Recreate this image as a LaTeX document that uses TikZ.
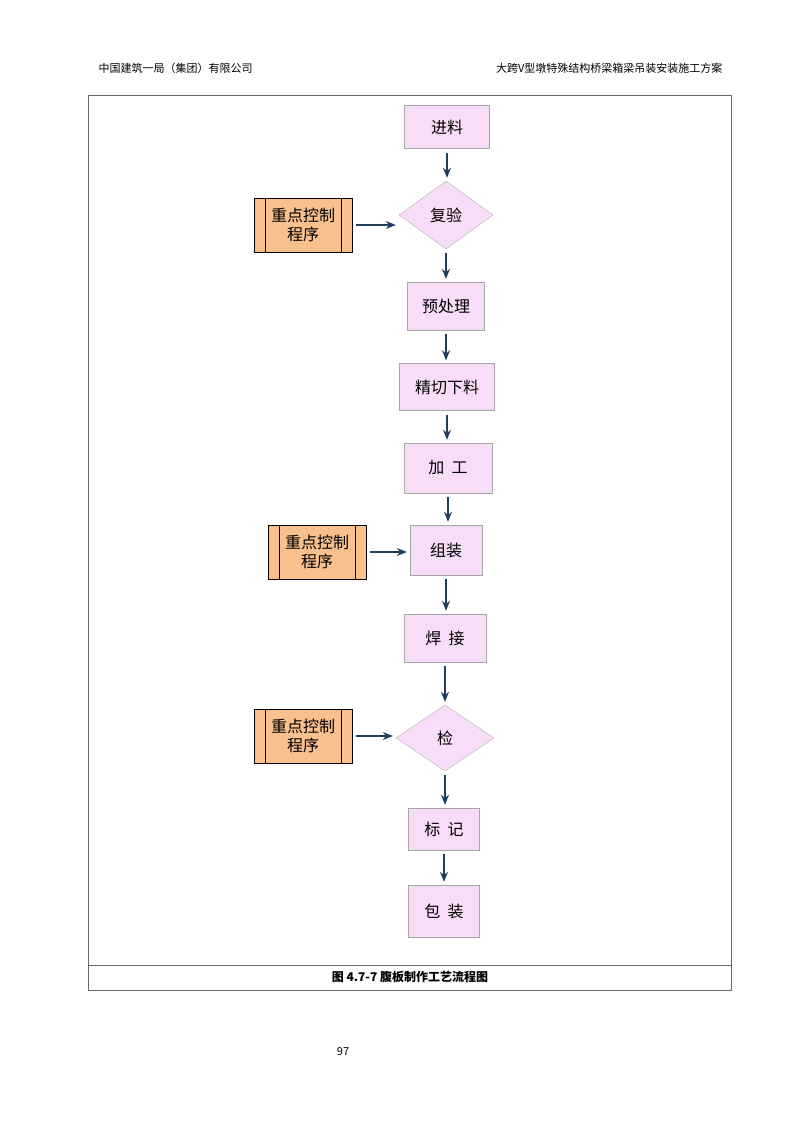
\documentclass[tikz,border=0pt]{standalone}
\usepackage{fontspec}
\setmainfont{Noto Sans CJK SC}
\usetikzlibrary{shapes.geometric,arrows.meta}
\definecolor{pinkf}{HTML}{F7DDF7}
\definecolor{orf}{HTML}{F8C08C}
\definecolor{arr}{HTML}{1F3D5C}
\tikzset{
 x=1pt,y=-1pt,
 proc/.style={draw=gray!70,fill=pinkf,minimum width=#1,minimum height=46pt,font=\fontsize{16}{18}\selectfont,inner sep=0pt},
 dec/.style={diamond,draw=gray!60,fill=pinkf,minimum width=94pt,minimum height=68pt,aspect=1.4,inner sep=0pt,font=\fontsize{16}{18}\selectfont},
 ctrl/.style={draw=black,fill=orf,minimum width=98pt,minimum height=54pt,align=center,font=\fontsize{16}{19}\selectfont,inner sep=0pt},
 flow/.style={-{Stealth[length=10pt,width=8pt]},draw=arr,line width=1.1pt,shorten <=4pt,shorten >=3pt}
}
\newcommand{\ctrlbars}[1]{\draw ([xshift=11pt]#1.north west)--([xshift=11pt]#1.south west) ([xshift=-11pt]#1.north east)--([xshift=-11pt]#1.south east);}
\begin{document}
\begin{tikzpicture}
\fill[white] (0,0) rectangle (800,1132);
\useasboundingbox (0,0) rectangle (800,1132);
\node[font=\fontsize{11}{13}\selectfont,anchor=west] (hl) at (95,68) {中国建筑一局（集团）有限公司};
\node[font=\fontsize{11}{13}\selectfont,anchor=east] (hr) at (726,68) {大跨V型墩特殊结构桥梁箱梁吊装安装施工方案};
\draw[gray!80!black] (88,95) rectangle (731,990);
\draw[gray!80!black] (88,965) -- (731,965);
\node[font=\bfseries\fontsize{12}{14}\selectfont] (cap) at (410,977) {图 4.7-7 腹板制作工艺流程图};
\node[font=\fontsize{11}{13}\selectfont] (pg) at (343,1052) {97};

\node[proc=85pt,minimum height=43pt] (a) at (447,127) {进料};
\node[dec] (b) at (446,215) {复验};
\node[proc=77pt,minimum height=48pt] (c) at (446,306) {预处理};
\node[proc=95pt,minimum height=47pt] (d) at (447,387) {精切下料};
\node[proc=88pt,minimum height=50pt] (e) at (448,468) {加\ \ 工};
\node[proc=72pt,minimum height=50pt] (f) at (446,550) {组装};
\node[proc=82pt,minimum height=48pt] (g) at (445,638) {焊\ \ 接};
\node[dec,minimum width=98pt,minimum height=66pt] (h) at (445,738) {检};
\node[proc=71pt,minimum height=42pt] (i) at (444,829) {标\ \ 记};
\node[proc=71pt,minimum height=52pt] (j) at (444,911) {包\ \ 装};

\node[ctrl] (k1) at (303,225) {重点控制\\程序}; \ctrlbars{k1}
\node[ctrl] (k2) at (317,552) {重点控制\\程序}; \ctrlbars{k2}
\node[ctrl] (k3) at (303,736) {重点控制\\程序}; \ctrlbars{k3}

\foreach \u/\v in {a/b,b/c,c/d,d/e,e/f,f/g,g/h,h/i,i/j}
  \draw[flow] (\u.south) -- (\u.south |- \v.north);
\draw[flow] (k1.east) -- (k1.east -| b.west);
\draw[flow] (k2.east) -- (k2.east -| f.west);
\draw[flow] (k3.east) -- (k3.east -| h.west);
\end{tikzpicture}
\end{document}
